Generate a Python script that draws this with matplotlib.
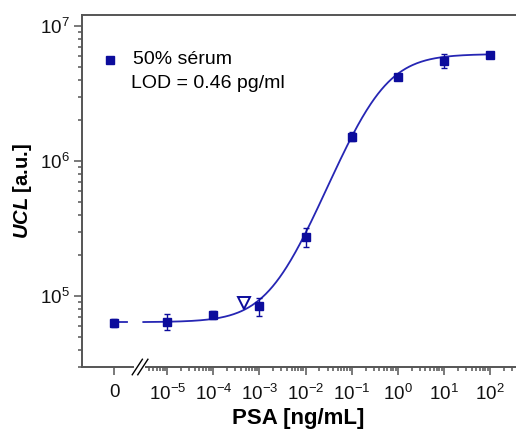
import numpy as np
import matplotlib
matplotlib.use("Agg")
import matplotlib.pyplot as plt
from matplotlib.ticker import NullFormatter

plt.rcParams['font.family'] = ['Liberation Sans', 'DejaVu Sans']
plt.rcParams['mathtext.fontset'] = 'custom'
plt.rcParams['mathtext.rm'] = 'Liberation Sans'
plt.rcParams['mathtext.it'] = 'Liberation Sans:italic:bold'
plt.rcParams['mathtext.bf'] = 'Liberation Sans:bold'

# 数据 (PSA 浓度 ng/mL, UCL a.u.)
conc = [0, 1e-5, 1e-4, 1e-3, 1e-2, 1e-1, 1e0, 1e1, 1e2]
ucl = [6.3e4, 6.4e4, 7.2e4, 8.4e4, 2.73e5, 1.51e6, 4.19e6, 5.5e6, 6.07e6]
err_lo = [4e3, 8e3, 4e3, 1.3e4, 4.2e4, 1.0e5, 1.2e5, 6.0e5, 1.2e5]
err_hi = [4e3, 9e3, 5e3, 1.3e4, 4.6e4, 1.2e5, 1.2e5, 7.0e5, 1.2e5]
xtick_exps = [-5, -4, -3, -2, -1, 0, 1, 2]
ytick_exps = [5, 6, 7]

lod_conc = 4.6e-4
lod_ucl = 8.9e4

# 4PL 拟合参数
fit_bottom, fit_top, fit_ec50, fit_hill = 6.4e4, 6.2e6, 0.37, 0.9

# 断轴: 浓度 0 放在 log 坐标 -6.15 处
zero_pos = -6.15
break_lo, break_hi = -5.74, -5.46
curve_gap = (-5.87, -5.52)
xmin, xmax = -6.85, 2.87
ymin, ymax = 2.98e4, 1.206e7

color = '#0c0c9c'
line_color = '#2626b4'
frame = '#555555'


def fit(c):
    c = np.asarray(c, dtype=float)
    return fit_top + (fit_bottom - fit_top) / (1 + (c / fit_ec50) ** fit_hill)


def pos(c):
    return np.array([zero_pos if v == 0 else np.log10(v) for v in c])


fig = plt.figure(figsize=(5.16, 4.37), dpi=100)
ax = fig.add_axes([82 / 516, 70 / 437, 448 / 516, 352 / 437])
ax.set_yscale('log')
ax.set_xlim(xmin, xmax)
ax.set_ylim(ymin, ymax)

# 拟合曲线
xs_left = np.linspace(zero_pos, curve_gap[0], 10)
ax.plot(xs_left, fit(np.zeros_like(xs_left)), color=line_color, lw=1.3)
xs = np.linspace(curve_gap[1], 2, 400)
ax.plot(xs, fit(10 ** xs), color=line_color, lw=1.3)

# 数据点
ax.errorbar(pos(conc), ucl, yerr=[err_lo, err_hi], fmt='s', color=color,
            ms=5.5, elinewidth=1, capsize=2.5, capthick=1, zorder=3)
ax.plot([np.log10(lod_conc)], [lod_ucl], 'v', ms=9, mfc='white', mec=color,
        mew=1.4, zorder=4)

# 坐标轴
for s in ['top', 'left', 'right']:
    ax.spines[s].set_color(frame)
    ax.spines[s].set_linewidth(1.4)
ax.spines['bottom'].set_visible(False)
tr = ax.get_xaxis_transform()
ax.plot([xmin, break_lo], [0, 0], color=frame, lw=1.4, transform=tr, clip_on=False)
ax.plot([break_hi, xmax], [0, 0], color=frame, lw=1.4, transform=tr, clip_on=False)
for dx in [0, 0.12]:
    ax.plot([break_lo - 0.02 + dx, break_lo + 0.2 + dx], [-0.022, 0.022],
            color='black', lw=1.0, transform=tr, clip_on=False)

ax.set_xticks([zero_pos] + xtick_exps)
ax.set_xticklabels(['0'] + [r'$\mathdefault{10^{%d}}$' % e for e in xtick_exps])
xminor = [n + np.log10(k) for n in range(-6, 3) for k in range(2, 10)]
xminor = [m for m in xminor if break_hi < m < xmax]
ax.set_xticks(xminor, minor=True)

ax.set_yticks([10.0 ** e for e in ytick_exps])
ax.set_yticklabels([r'$\mathdefault{10^{%d}}$' % e for e in ytick_exps])
yminor = [k * 10.0 ** n for n in range(4, 8) for k in range(2, 10)]
yminor = [m for m in yminor if ymin < m < ymax]
ax.set_yticks(yminor, minor=True)
ax.yaxis.set_minor_formatter(NullFormatter())

ax.tick_params(which='both', direction='out', color=frame, width=1.1,
               labelsize=13.5, labelcolor='#111111')
ax.tick_params(which='major', length=6, pad=3)
ax.tick_params(which='minor', length=3)
ax.tick_params(axis='x', which='major', length=6, pad=6.5)

ax.set_xlabel('PSA [ng/mL]', fontsize=16, fontweight='bold')
ax.xaxis.set_label_coords((298 - 82) / 448, (367 - 408) / 352)
ax.set_ylabel(r'$UCL$ [a.u.]', fontsize=14.5, fontweight='bold')
ax.yaxis.set_label_coords((34 - 82) / 448, 0.5)

# 图例
ax.plot([(110 - 82) / 448], [(367 - 60) / 352], 's', color=color, ms=5.3,
        transform=ax.transAxes, clip_on=False)
ax.text((133 - 82) / 448, (367 - 60) / 352, '50% sérum', fontsize=14,
        va='center', ha='left', transform=ax.transAxes)
ax.text((131 - 82) / 448, (367 - 83) / 352, 'LOD = 0.46 pg/ml', fontsize=14,
        va='center', ha='left', transform=ax.transAxes)

fig.savefig('out.png', dpi=100)
